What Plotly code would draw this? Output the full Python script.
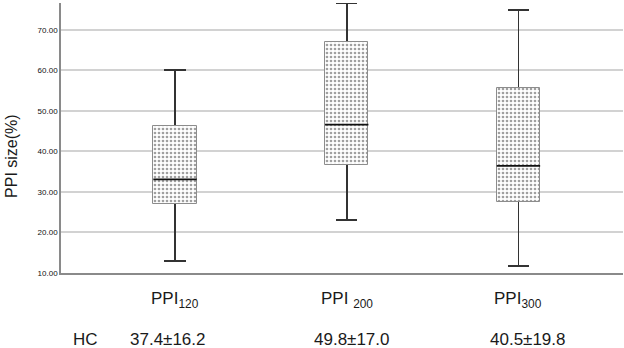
import plotly.graph_objects as go

# data
categories = ["PPI<sub>120</sub>", "PPI <sub>200</sub>", "PPI<sub>300</sub>"]
mean_sd = ["37.4±16.2", "49.8±17.0", "40.5±19.8"]
lower = [13.0, 23.1, 11.7]
q1 = [26.9, 36.6, 27.6]
median = [33.1, 46.6, 36.4]
q3 = [46.2, 67.0, 55.6]
upper = [60.1, 76.6, 74.9]
y_ticks = [10, 20, 30, 40, 50, 60, 70]

xs = list(range(len(categories)))
FONT = "Liberation Sans, Arial, sans-serif"
BW = 0.253

fig = go.Figure()

# whiskers (drawn under the boxes)
fig.add_trace(go.Bar(
    x=xs, y=median, width=BW,
    marker=dict(color="rgba(0,0,0,0)", line=dict(width=0)),
    error_y=dict(type="data", symmetric=False,
                 array=[u - m for u, m in zip(upper, median)],
                 arrayminus=[m - l for m, l in zip(median, lower)],
                 color="#333333", thickness=1.6, width=10.7),
    hoverinfo="skip", showlegend=False,
))

# boxes with dotted pattern
fig.add_trace(go.Bar(
    x=xs, base=q1, y=[b - a for a, b in zip(q1, q3)], width=BW,
    marker=dict(color="white",
                line=dict(color="#8c8c8c", width=1),
                pattern=dict(shape=".", fgcolor="#a0a0a0", bgcolor="white",
                             size=4, solidity=0.35)),
    showlegend=False,
))

# medians
fig.add_trace(go.Scatter(
    x=xs, y=median, mode="markers",
    marker=dict(symbol="line-ew", size=31, line=dict(color="#111111", width=1.8)),
    showlegend=False,
))

# category labels and HC row
for i, c in enumerate(categories):
    fig.add_annotation(x=i, y=-0.10, xref="x", yref="paper", text=c,
                       showarrow=False, font=dict(family=FONT, size=17, color="#1a1a1a"),
                       yanchor="middle", xanchor="center")
for i, t, dx in zip(xs, mean_sd, [-7, 5, 10]):
    fig.add_annotation(x=i, y=-0.248, xref="x", yref="paper", text=t, xshift=dx,
                       showarrow=False, font=dict(family=FONT, size=17, color="#1a1a1a"),
                       yanchor="middle", xanchor="center")
fig.add_annotation(x=-0.522, y=-0.248, xref="x", yref="paper", text="HC",
                   showarrow=False, font=dict(family=FONT, size=17, color="#1a1a1a"),
                   yanchor="middle", xanchor="center")
fig.add_annotation(x=-0.087, y=0.434, xref="paper", yref="paper", text="PPI size(%)",
                   textangle=-90, showarrow=False, xanchor="center", yanchor="middle",
                   font=dict(family=FONT, size=16, color="#1a1a1a"))

fig.update_layout(
    template="none",
    width=624, height=348,
    margin=dict(l=61, r=1, t=3, b=75, pad=0, autoexpand=False),
    plot_bgcolor="white", paper_bgcolor="white",
    barmode="overlay", bargap=0,
    showlegend=False,
    xaxis=dict(range=[-0.664, 2.609], showticklabels=False, showgrid=False,
               zeroline=False, showline=True, linecolor="#8a8a8a", linewidth=1.5,
               ticks="", automargin=False),
    yaxis=dict(range=[10, 76.6], tickvals=y_ticks, tickformat=".2f",
               showgrid=True, gridcolor="#d2d2d2", gridwidth=1.5,
               zeroline=False, showline=True, linecolor="#8a8a8a", linewidth=1.5,
               ticks="", automargin=False,
               tickfont=dict(family=FONT, size=8, color="#111")),
)

fig.write_html("out.html", config={"displayModeBar": False})

# remove the default page margin so the figure fills the window exactly
with open("out.html", encoding="utf-8") as f:
    html = f.read()
html = html.replace("<head>", "<head><style>html,body{margin:0;padding:0;overflow:hidden}</style>", 1)
with open("out.html", "w", encoding="utf-8") as f:
    f.write(html)
